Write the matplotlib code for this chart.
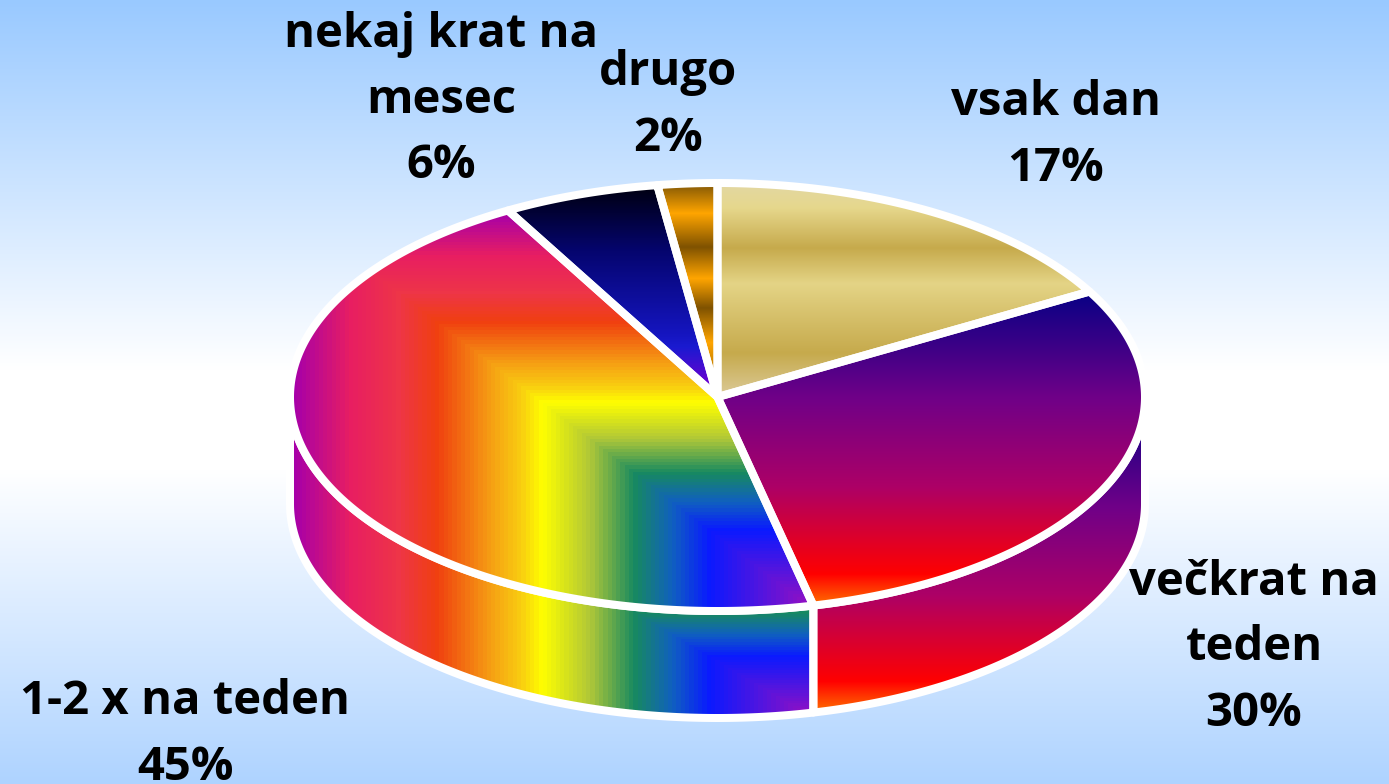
import numpy as np
import matplotlib
matplotlib.use("Agg")
import matplotlib.pyplot as plt
from matplotlib.colors import to_rgb
from matplotlib.patches import Polygon

# ---- data ----
categories = ["vsak dan", "večkrat na\nteden", "1-2 x na teden", "nekaj krat na\nmesec", "drugo"]
values = [16.8, 29.6, 45.45, 5.9, 2.25]

# ---- layout ----
W, H = 1389, 784
CX, CY, RX, RY, DEPTH = 717.5, 397.0, 427.5, 214.0, 107.0
STROKE = 8 * 0.72
FONT = "Open Sans"
FS = 34
LINE = 65.5
LABEL_POS = [(1056, 115), (1254, 595), (185, 714), (441, 47), (668, 85)]

GOLD = [(0, "#e3d8a0"), (.10, "#e6d78c"), (.29, "#c6aa4c"), (.46, "#e4d486"), (.79, "#c6aa4c"), (1, "#dccb9a")]
AMBER = [(0, "#8f5f05"), (.125, "#ffa500"), (.286, "#7f5200"), (.435, "#ffa500"), (.576, "#7f5200"), (.74, "#ffa500"), (1, "#7f5200")]
NIGHT = [(0, "#000012"), (.30, "#05056e"), (.70, "#1515c0"), (.76, "#1a1ad0"), (.95, "#7000d0"), (1, "#7000d0")]
FIRE = [(0, "#0a0085"), (.33, "#6f0088"), (.62, "#ad0066"), (.90, "#ff0000"), (1, "#ff7000")]
RAINBOW = [(0, "#a800a8"), (.107, "#e81e62"), (.20, "#ee3548"), (.275, "#f04010"), (.38, "#f6a014"),
           (.44, "#f9d010"), (.478, "#ffff00"), (.57, "#b0c838"), (.656, "#188a60"), (.73, "#1060c0"),
           (.801, "#0a1aff"), (1, "#9a10c0")]


def colour(stops, t):
    xs = [s[0] for s in stops]
    cols = np.array([to_rgb(s[1]) for s in stops])
    return np.stack([np.interp(t, xs, cols[:, i]) for i in range(3)], axis=-1)


yy, xx = np.mgrid[0:H, 0:W] + 0.5


def vertical(stops, y0, y1):
    return colour(stops, np.clip((yy - y0) / (y1 - y0), 0, 1))


def corner(stops, x0, x1, y0, y1, levels=120):
    t = np.minimum((xx - x0) / (x1 - x0), (yy - y0) / (y1 - y0))
    t = np.floor(np.clip(t, 0, 1) * levels) / levels
    return colour(stops, t)


def pt(theta, dy=0.0):
    r = np.radians(theta)
    return np.column_stack([CX + RX * np.sin(r), CY + dy - RY * np.cos(r)])


fig = plt.figure(figsize=(W / 100, H / 100), dpi=100)
ax = fig.add_axes([0, 0, 1, 1])
ax.axis("off")

# background
bg = colour([(0, "#99c9ff"), (370 / H, "#ffffff"), (470 / H, "#ffffff"), (1, "#aed3ff")], yy / H)
ax.imshow(bg, extent=(0, W, H, 0), aspect="auto", interpolation="nearest", zorder=0)

edges = np.concatenate([[0], np.cumsum(values)]) / sum(values) * 360

tops = [
    vertical(GOLD, 187, 397),
    vertical(FIRE, 295, 605),
    corner(RAINBOW, 293, 810, 212, 607),
    vertical(NIGHT, 188, 397),
    vertical(AMBER, 187, 397),
]
sides = {
    1: vertical(FIRE, 405, 712),
    2: corner(RAINBOW, 293, 810, 410, 716),
}


def fill(poly, image, z):
    patch = Polygon(poly, closed=True, transform=ax.transData, fc="none", ec="none")
    ax.add_patch(patch)
    im = ax.imshow(image, extent=(0, W, H, 0), aspect="auto", interpolation="nearest", zorder=z)
    im.set_clip_path(patch)
    ax.add_patch(Polygon(poly, closed=True, fc="none", ec="white", lw=STROKE, joinstyle="round", zorder=z + 0.5))


# side walls (front half of the pie)
for i, image in sides.items():
    a, b = max(edges[i], 90), min(edges[i + 1], 270)
    arc = np.linspace(a, b, 200)
    poly = np.vstack([pt(arc), pt(arc[::-1], DEPTH)])
    fill(poly, image, 2)

# top faces
for i, image in enumerate(tops):
    arc = np.linspace(edges[i], edges[i + 1], 300)
    poly = np.vstack([[[CX, CY]], pt(arc)])
    fill(poly, image, 4)

# labels
for i, (name, (x, y)) in enumerate(zip(categories, LABEL_POS)):
    lines = name.split("\n") + [f"{values[i]:.0f}%"]
    for k, line in enumerate(lines):
        ax.text(x, y + k * LINE, line, ha="center", va="baseline", color="black",
                family=FONT, weight="bold", fontsize=FS, zorder=10, clip_on=False)

ax.set_xlim(0, W)
ax.set_ylim(H, 0)
fig.savefig("out.png", dpi=100)
